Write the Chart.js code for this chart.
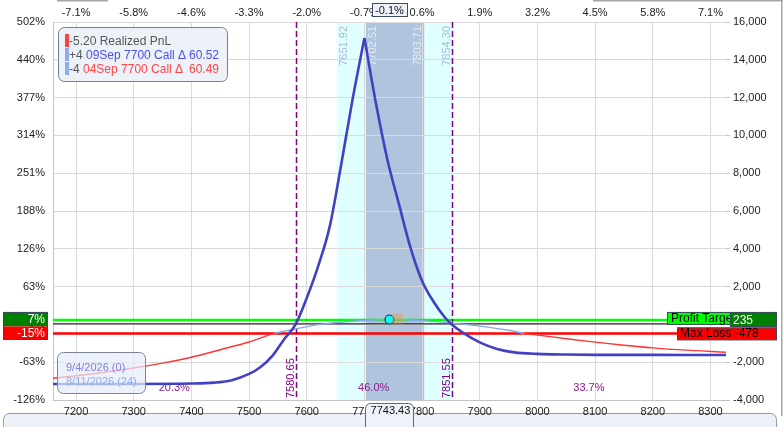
<!DOCTYPE html>
<html lang="en">
<head>
<meta charset="UTF-8">
<title>Risk Graph</title>
<script src="https://cdn.jsdelivr.net/npm/chart.js@4.4.1/dist/chart.umd.min.js"></script>
<style>
  html, body { margin: 0; padding: 0; background: #ffffff; overflow: hidden; }
  canvas { display: block; }
</style>
</head>
<body>
<canvas id="riskChart" width="784" height="427"></canvas>
<script>
// Faixa de preços e preço atual
const priceMin = 7160;
const priceMax = 8327;
const currentPrice = 7743.43;
const currentPnl = 260;
const currentPctLabel = "-0.1%";

// Ticks dos eixos
const xTicks = [7200, 7300, 7400, 7500, 7600, 7700, 7800, 7900, 8000, 8100, 8200, 8300];
const topTickLabels = ["-7.1%", "-5.8%", "-4.6%", "-3.3%", "-2.0%", "-0.7%", "0.6%", "1.9%", "3.2%", "4.5%", "5.8%", "7.1%"];
const yTicks = [-4000, -2000, 0, 2000, 4000, 6000, 8000, 10000, 12000, 14000, 16000];
const pctTickLabels = ["-126%", "-63%", "0%", "63%", "126%", "188%", "251%", "314%", "377%", "440%", "502%"];

// Curva no vencimento (9/4/2026)
const expPrices = [7160, 7300, 7400, 7440, 7470, 7500, 7520, 7540, 7560, 7580.65, 7600, 7620, 7640, 7660, 7680, 7700,
  7720, 7740, 7760, 7780, 7800, 7820, 7840, 7851.55, 7870, 7900, 7930, 7960, 8000, 8050, 8100, 8200, 8327];
const expValues = [-3150, -3150, -3130, -3080, -2950, -2620, -2250, -1680, -820, 0, 1400, 3100, 5200, 8500, 12000, 15150,
  11700, 8700, 6350, 4050, 2300, 1200, 350, 0, -420, -950, -1300, -1480, -1560, -1595, -1610, -1615, -1620];

// Curva de hoje (8/11/2026)
const todayPrices = [7160, 7200, 7250, 7300, 7350, 7400, 7450, 7500, 7544, 7580, 7622, 7680, 7743.43, 7800, 7851.55,
  7900, 7950, 7977, 8000, 8050, 8100, 8150, 8200, 8250, 8327];
const todayValues = [-2850, -2720, -2530, -2310, -2050, -1740, -1340, -930, -478, -250, 0, 170, 260, 200, 70,
  -90, -310, -478, -560, -760, -940, -1100, -1240, -1350, -1470];

// Faixas de desvio, breakevens e probabilidades
const outerBand = [7651.92, 7854.30];
const innerBand = [7702.51, 7803.71];
const breakevens = [7580.65, 7851.55];
const probLabels = ["20.3%", "46.0%", "33.7%"];

// Alvo de lucro e perda máxima
const profitTarget = 235;
const maxLoss = -478;
const profitTargetPct = "7%";
const maxLossPct = "-15%";

// Marcador ao lado do ponto atual (preço inicial, preço final, pnl min, pnl max)
const pnlMarkerBox = [7748, 7767, 40, 570];

// Legendas
const realizedPnl = "-5.20";
const positionQty = ["+4", "-4"];
const positionNames = ["09Sep 7700 Call Δ", "04Sep 7700 Call Δ"];
const positionDelta = ["60.52", "60.49"];
const curveDates = ["9/4/2026 (0)", "8/11/2026 (24)"];

const FONT = "'Liberation Sans', Arial, sans-serif";
const expColor = "#4141c2";
const todayColor = "#86a8ee";
const lossColor = "#ff3535";

// Divide a curva de vencimento no pico para manter a ponta aguda
const peakIdx = expValues.indexOf(Math.max(...expValues));
const toPoints = (xs, ys) => xs.map((x, i) => ({ x: x, y: ys[i] }));
const expLeft = toPoints(expPrices.slice(0, peakIdx + 1), expValues.slice(0, peakIdx + 1));
const expRight = toPoints(expPrices.slice(peakIdx), expValues.slice(peakIdx));

// Caixa arredondada
function roundBox(ctx, x, y, w, h, r, fill, stroke) {
  ctx.beginPath();
  ctx.roundRect(x, y, w, h, r);
  if (fill) { ctx.fillStyle = fill; ctx.fill(); }
  if (stroke) { ctx.strokeStyle = stroke; ctx.lineWidth = 1; ctx.stroke(); }
}

// Texto vertical (de baixo para cima)
function vText(ctx, text, x, y, align, color) {
  ctx.save();
  ctx.translate(x, y);
  ctx.rotate(-Math.PI / 2);
  ctx.textAlign = align;
  ctx.textBaseline = "middle";
  ctx.fillStyle = color;
  ctx.fillText(text, 0, 0);
  ctx.restore();
}

function hLine(ctx, a, yPix, color, width) {
  ctx.beginPath();
  ctx.moveTo(a.left, yPix);
  ctx.lineTo(a.right, yPix);
  ctx.strokeStyle = color;
  ctx.lineWidth = width;
  ctx.stroke();
}

const overlay = {
  id: "overlay",
  beforeDraw(chart) {
    const { ctx, chartArea: a, scales: { x } } = chart;
    ctx.save();
    // painel inferior
    roundBox(ctx, 3.5, 413.5, 773, 30, 6, "#edf2f9", "#8d9bb0");
    // faixas de desvio padrão
    const o0 = x.getPixelForValue(outerBand[0]);
    const o1 = x.getPixelForValue(outerBand[1]);
    ctx.fillStyle = "#e0ffff";
    ctx.fillRect(o0, a.top, o1 - o0, a.bottom - a.top);
    const i0 = x.getPixelForValue(innerBand[0]);
    const i1 = x.getPixelForValue(innerBand[1]);
    ctx.fillStyle = "#b0c4de";
    ctx.fillRect(i0, a.top, i1 - i0, a.bottom - a.top);
    ctx.restore();
  },
  beforeDatasetsDraw(chart) {
    const { ctx, chartArea: a, scales: { x, y } } = chart;
    ctx.save();
    ctx.font = "11px " + FONT;
    // rótulos das faixas
    vText(ctx, outerBand[0].toFixed(2), x.getPixelForValue(outerBand[0]) + 7, a.top + 4, "right", "#a9bdd7");
    vText(ctx, innerBand[0].toFixed(2), x.getPixelForValue(innerBand[0]) + 7, a.top + 4, "right", "#e2e9f2");
    vText(ctx, innerBand[1].toFixed(2), x.getPixelForValue(innerBand[1]) - 6, a.top + 4, "right", "#e2e9f2");
    vText(ctx, outerBand[1].toFixed(2), x.getPixelForValue(outerBand[1]) - 6, a.top + 4, "right", "#a9bdd7");

    // linhas horizontais
    hLine(ctx, a, y.getPixelForValue(profitTarget), "#00ff00", 2.5);
    hLine(ctx, a, y.getPixelForValue(0) - 0.5, "#000000", 1);
    hLine(ctx, a, y.getPixelForValue(maxLoss), "#ff0000", 2.5);

    // breakevens tracejados
    ctx.setLineDash([6, 3]);
    ctx.strokeStyle = "#800080";
    ctx.lineWidth = 1.5;
    breakevens.forEach((be) => {
      const px = Math.round(x.getPixelForValue(be)) + 0.5;
      ctx.beginPath();
      ctx.moveTo(px, a.top);
      ctx.lineTo(px, a.bottom);
      ctx.stroke();
    });
    ctx.setLineDash([]);
    breakevens.forEach((be) => {
      vText(ctx, be.toFixed(2), x.getPixelForValue(be) - 5, a.bottom - 2, "left", "#800080");
    });

    // probabilidades
    const edges = [a.left, x.getPixelForValue(breakevens[0]), x.getPixelForValue(breakevens[1]), a.right];
    ctx.fillStyle = "#8b1a8b";
    ctx.textAlign = "center";
    ctx.textBaseline = "middle";
    probLabels.forEach((t, i) => {
      ctx.fillText(t, (edges[i] + edges[i + 1]) / 2, a.bottom - 12);
    });
    ctx.restore();
  },
  afterDatasetsDraw(chart) {
    const { ctx, scales: { x, y } } = chart;
    ctx.save();
    // marcador ao lado do ponto
    const mx0 = x.getPixelForValue(pnlMarkerBox[0]);
    const mx1 = x.getPixelForValue(pnlMarkerBox[1]);
    const my0 = y.getPixelForValue(pnlMarkerBox[3]);
    const my1 = y.getPixelForValue(pnlMarkerBox[2]);
    ctx.fillStyle = "rgba(240, 150, 90, 0.45)";
    ctx.fillRect(mx0, my0, mx1 - mx0, my1 - my0);

    // legenda das posições
    roundBox(ctx, 58.5, 27.5, 169, 54, 6, "#edf2f9", "#76808c");
    ctx.font = "12px " + FONT;
    ctx.textBaseline = "middle";
    ctx.textAlign = "left";
    ctx.fillStyle = "#ff4040";
    ctx.fillRect(65, 34, 4, 13);
    ctx.fillStyle = "#8eaaf0";
    ctx.fillRect(65, 48, 4, 13);
    ctx.fillRect(65, 62, 4, 13);
    ctx.fillStyle = "#555555";
    ctx.fillText(realizedPnl + " Realized PnL", 69, 42);
    const rowColors = ["#4d4df5", "#ff4545"];
    positionQty.forEach((q, i) => {
      const ry = 55.5 + i * 14;
      ctx.textAlign = "left";
      ctx.fillStyle = "#555555";
      ctx.fillText(q, 69, ry);
      ctx.fillStyle = rowColors[i];
      ctx.fillText(positionNames[i], 69 + ctx.measureText(q + " ").width, ry);
      ctx.textAlign = "right";
      ctx.fillText(positionDelta[i], 219, ry);
    });

    // legenda das curvas
    roundBox(ctx, 57.5, 352.5, 88, 41, 6, "rgba(228, 235, 250, 0.72)", "#7a8696");
    ctx.font = "11px " + FONT;
    ctx.textAlign = "left";
    ctx.fillStyle = "#8282da";
    ctx.fillText(curveDates[0], 66, 368);
    ctx.fillStyle = "#8eabea";
    ctx.fillText(curveDates[1], 66, 381.5);
    ctx.restore();
  },
  afterDraw(chart) {
    const { ctx, chartArea: a, scales: { x, y } } = chart;
    ctx.save();
    ctx.textBaseline = "middle";
    ctx.font = "12px " + FONT;
    const yT = y.getPixelForValue(profitTarget);
    const yL = y.getPixelForValue(maxLoss);

    // caixas do eixo esquerdo
    ctx.fillStyle = "#008000";
    ctx.fillRect(3, yT - 8, 45, 14.5);
    ctx.fillStyle = "#ff0000";
    ctx.fillRect(3, yT + 6.5, 45, 13.5);
    ctx.strokeStyle = "#3a4a5c";
    ctx.lineWidth = 1;
    ctx.strokeRect(3.5, yT - 7.5, 44, 27);
    ctx.fillStyle = "#ffffff";
    ctx.textAlign = "right";
    ctx.fillText(profitTargetPct, 45, yT);
    ctx.fillText(maxLossPct, 45, yT + 13.5);

    // caixas do eixo direito
    ctx.textAlign = "left";
    const vx = a.right + 4;
    ctx.fillStyle = "#00ff00";
    ctx.fillRect(a.right - 59, yT - 8, 63, 13);
    ctx.strokeRect(a.right - 58.5, yT - 7.5, 63, 12);
    ctx.fillStyle = "#000000";
    ctx.fillText("Profit Target", a.right - 55, yT - 1.5);
    ctx.fillStyle = "#008000";
    ctx.fillRect(vx, yT - 8, 47, 15);
    ctx.strokeRect(vx + 0.5, yT - 7.5, 46, 14);
    ctx.fillStyle = "#ffffff";
    ctx.fillText(String(profitTarget), vx + 3, yT + 0.5);
    ctx.fillStyle = "#ff0000";
    ctx.fillRect(a.right - 49, yL - 6, 100, 12.5);
    ctx.strokeRect(a.right - 48.5, yL - 5.5, 99, 12);
    ctx.fillStyle = "#000000";
    ctx.fillText("Max Loss " + maxLoss, a.right - 46, yL + 0.5);

    // preço atual no eixo superior e inferior
    ctx.font = "11px " + FONT;
    const cx = x.getPixelForValue(currentPrice);
    ctx.textAlign = "center";
    const tw = ctx.measureText(currentPctLabel).width + 6;
    ctx.fillStyle = "#eef3fa";
    ctx.fillRect(cx - tw / 2, 3, tw, 14);
    ctx.strokeStyle = "#3c4c5c";
    ctx.strokeRect(Math.round(cx - tw / 2) + 0.5, 3.5, Math.round(tw), 13);
    ctx.fillStyle = "#111111";
    ctx.fillText(currentPctLabel, cx, 11);

    roundBox(ctx, Math.round(cx) - 23.5, 403.5, 48, 30, [5, 5, 0, 0], "#eef3fa", "#5c6b7a");
    ctx.fillStyle = "#111111";
    ctx.fillText(currentPrice.toFixed(2), cx + 1, 411);

    // bordas da janela
    ctx.fillStyle = "#a6a6a6";
    ctx.fillRect(57, 0, 51, 1.5);
    ctx.fillRect(593, 0, 190, 1.5);
    ctx.fillRect(781, 0, 1.5, 416);
    ctx.restore();
  }
};

// Inicialização do gráfico
const ctx = document.getElementById("riskChart").getContext("2d");
Chart.defaults.font.family = FONT;
Chart.defaults.font.size = 11;
Chart.defaults.color = "#222222";

const setXTicks = (s) => { s.ticks = xTicks.map((v) => ({ value: v })); };
const setYTicks = (s) => { s.ticks = yTicks.map((v) => ({ value: v })); };

new Chart(ctx, {
  type: "line",
  data: {
    datasets: [
      {
        label: "now",
        data: [{ x: currentPrice, y: currentPnl }],
        showLine: false,
        pointRadius: 4.5,
        pointBackgroundColor: "#00ffff",
        pointBorderColor: "#1c3a48",
        pointBorderWidth: 1.2,
      },
      {
        label: curveDates[0],
        data: expLeft,
        borderColor: expColor,
        borderWidth: 2.6,
        pointRadius: 0,
        cubicInterpolationMode: "monotone",
      },
      {
        label: curveDates[0],
        data: expRight,
        borderColor: expColor,
        borderWidth: 2.6,
        pointRadius: 0,
        cubicInterpolationMode: "monotone",
      },
      {
        label: curveDates[1],
        data: toPoints(todayPrices, todayValues),
        borderColor: todayColor,
        borderWidth: 1.4,
        pointRadius: 0,
        cubicInterpolationMode: "monotone",
        segment: {
          borderColor: (c) => (c.p0.parsed.y < maxLoss || c.p1.parsed.y < maxLoss ? lossColor : todayColor),
        },
      },
    ],
  },
  options: {
    responsive: false,
    animation: false,
    layout: { padding: 0 },
    plugins: {
      legend: { display: false },
      tooltip: { enabled: false },
    },
    scales: {
      x: {
        type: "linear",
        position: "bottom",
        min: priceMin,
        max: priceMax,
        afterBuildTicks: setXTicks,
        afterFit: (s) => { s.height = 27; },
        ticks: { padding: 5, maxRotation: 0, autoSkip: false, callback: (v) => String(v) },
        grid: { color: "#dadada", drawTicks: false },
        border: { color: "#c4c4c4" },
      },
      x2: {
        type: "linear",
        position: "top",
        min: priceMin,
        max: priceMax,
        afterBuildTicks: setXTicks,
        afterFit: (s) => { s.height = 22; },
        ticks: { padding: -6, maxRotation: 0, autoSkip: false, callback: (v) => topTickLabels[xTicks.indexOf(v)] },
        grid: { display: false },
        border: { display: false },
      },
      y: {
        position: "left",
        min: -4000,
        max: 16000,
        afterBuildTicks: setYTicks,
        afterFit: (s) => { s.width = 53; },
        ticks: { padding: 8, callback: (v) => pctTickLabels[yTicks.indexOf(v)] },
        grid: { color: "#dadada", drawTicks: false },
        border: { color: "#c4c4c4" },
      },
      y2: {
        position: "right",
        min: -4000,
        max: 16000,
        afterBuildTicks: setYTicks,
        afterFit: (s) => { s.width = 58; },
        ticks: { padding: 3, callback: (v) => v.toLocaleString("en-US") },
        grid: { drawOnChartArea: false, tickLength: 4, color: "#c4c4c4" },
        border: { display: false },
      },
    },
  },
  plugins: [overlay],
});
</script>
</body>
</html>
